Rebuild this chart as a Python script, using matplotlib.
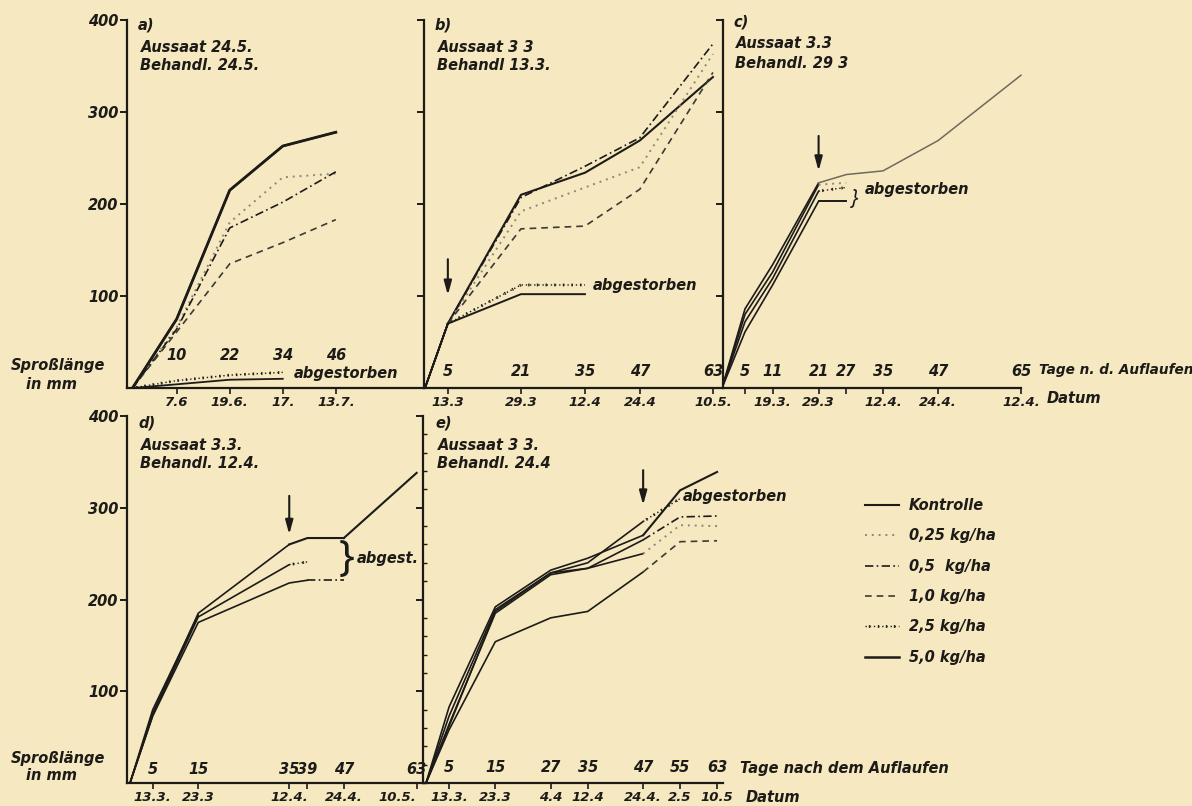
import matplotlib
matplotlib.use('Agg')
import matplotlib.pyplot as plt
import matplotlib.patheffects as pe
from matplotlib.lines import Line2D
from matplotlib.ticker import FixedLocator, MultipleLocator

W, H = 1192, 806
PAPER = '#f6e8c0'
INK = '#1c1b18'

plt.rcParams['font.family'] = 'DejaVu Sans'
plt.rcParams['font.style'] = 'oblique'
plt.rcParams['font.weight'] = 'bold'
plt.rcParams['font.size'] = 10.5
plt.rcParams['text.color'] = INK
plt.rcParams['axes.edgecolor'] = INK
plt.rcParams['xtick.color'] = INK
plt.rcParams['ytick.color'] = INK

# a) Aussaat 24.5. / Behandl. 24.5.
a_days = [0, 10, 22, 34, 46]
a_kontrolle = [0, 75, 215, 263, 278]
a_025 = [0, 66, 180, 229, 233]
a_05 = [0, 64, 174, 202, 235]
a_10 = [0, 61, 135, 158, 183]
a_days_dead = [0, 10, 22, 34]
a_25 = [0, 8, 14, 17]
a_50 = [0, 4, 9, 10]
a_dates = ['7.6', '19.6.', '17.', '13.7.']

# b) Aussaat 3.3. / Behandl. 13.3.
b_days = [0, 5, 21, 35, 47, 63]
b_kontrolle = [0, 70, 210, 234, 269, 338]
b_025 = [0, 70, 192, 218, 240, 363]
b_05 = [0, 70, 207, 241, 272, 374]
b_10 = [0, 70, 173, 176, 216, 343]
b_days_dead = [0, 5, 21, 35]
b_25 = [0, 70, 112, 112]
b_50 = [0, 70, 102, 102]
b_dates = ['13.3', '29.3', '12.4', '24.4', '10.5.']

# c) Aussaat 3.3. / Behandl. 29.3.
c_days = [0, 5, 11, 21, 27, 35, 47, 65]
c_kontrolle = [0, 86, 134, 223, 232, 236, 269, 340]
c_days_dead = [0, 5, 11, 21, 27]
c_025 = [0, 80, 126, 221, 223]
c_25 = [0, 72, 119, 214, 218]
c_50 = [0, 61, 112, 203, 203]
c_dates = ['', '19.3.', '29.3', '', '12.4.', '24.4.', '12.4.']

# d) Aussaat 3.3. / Behandl. 12.4.
d_days = [0, 5, 15, 47, 63]
d_kontrolle = [0, 80, 183, 267, 338]
d_days_dead = [0, 5, 15, 35, 39, 47]
d_50 = [0, 76, 185, 260, 267, 267]
d_25 = [0, 74, 181, 238, 240, 241]
d_05 = [0, 73, 175, 218, 221, 221]
d_ticks = [5, 15, 35, 39, 47, 63]
d_dates = ['13.3.', '23.3', '12.4.', '', '24.4.', '10.5.']

# e) Aussaat 3.3. / Behandl. 24.4.
e_days = [0, 5, 15, 27, 35, 47, 55, 63]
e_kontrolle = [0, 83, 192, 232, 245, 270, 319, 339]
e_025 = [0, 62, 187, 229, 234, 250, 281, 280]
e_05 = [0, 64, 185, 227, 234, 265, 290, 291]
e_10 = [0, 58, 154, 180, 187, 230, 263, 264]
e_days_dead = [0, 5, 15, 27, 35, 47, 55]
e_25 = [0, 73, 189, 229, 240, 285, 310]
e_dates = ['13.3.', '23.3', '4.4', '12.4', '24.4.', '2.5', '10.5']

labels = ['Kontrolle', '0,25 kg/ha', '0,5  kg/ha', '1,0 kg/ha', '2,5 kg/ha', '5,0 kg/ha']

crosses = [pe.TickedStroke(spacing=6, angle=90, length=0.45),
           pe.TickedStroke(spacing=6, angle=-90, length=0.45), pe.Normal()]
styles = [
    dict(ls='-', lw=1.5, color=INK),
    dict(ls=(0, (1, 2.5)), lw=1.4, color='#8d8774'),
    dict(ls=(0, (5, 2, 1, 2)), lw=1.2, color=INK),
    dict(ls=(0, (4, 3)), lw=1.2, color='#3b3a33'),
    dict(ls=(0, (1, 2)), lw=1.0, color=INK, path_effects=crosses),
    dict(ls='-', lw=1.8, color=INK),
]


def px_x(p):
    return p / W


def px_y(p):
    return 1 - p / H


fig = plt.figure(figsize=(W / 100, H / 100), dpi=100, facecolor=PAPER)


def panel(left, right, zero, top, origin, step, labelled):
    ax = fig.add_axes([px_x(left), px_y(zero), (right - left) / W, (zero - top) / H])
    ax.set_xlim((left - origin) / step, (right - origin) / step)
    ax.set_ylim(0, 400)
    ax.patch.set_visible(False)
    ax.spines['top'].set_visible(False)
    ax.spines['right'].set_visible(False)
    ax.spines['left'].set_linewidth(1.6)
    ax.spines['bottom'].set_linewidth(1.6)
    ax.yaxis.set_major_locator(FixedLocator([100, 200, 300, 400]))
    ax.tick_params(axis='y', direction='out', length=5, width=1.4, pad=1)
    ax.tick_params(axis='x', direction='out', length=4, width=1.2, pad=2, labelsize=9.5)
    if not labelled:
        ax.set_yticklabels([])
    return ax


def draw(ax, days, vals, style, treat, **extra):
    pre = [(d, v) for d, v in zip(days, vals) if d <= treat]
    post = [(d, v) for d, v in zip(days, vals) if d >= treat]
    if len(pre) > 1:
        ax.plot(*zip(*pre), color=INK, lw=1.2, solid_capstyle='round')
    if len(post) > 1:
        st = dict(style)
        st.update(extra)
        ax.plot(*zip(*post), **st)


def days_above(ax, days, offset):
    for d in days:
        ax.annotate(str(d), xy=(d, 0), xytext=(0, offset), textcoords='offset pixels',
                    ha='center', va='center')


def dates_below(ax, days, dates):
    ax.set_xticks(days)
    ax.set_xticklabels(dates)


def arrow(ax, day, y0, y1):
    ax.annotate('', xy=(day, y1), xytext=(day, y0),
                arrowprops=dict(arrowstyle='-|>,head_width=0.22,head_length=0.8',
                                color=INK, lw=1.5))


# top row
ax_a = panel(127, 424, 388, 20, 132.5, 4.42, True)
for vals, st in zip([a_kontrolle, a_025, a_05, a_10], styles[:4]):
    draw(ax_a, a_days, vals, st, 0)
draw(ax_a, a_days, a_kontrolle, styles[0], 0, lw=2.0)
draw(ax_a, a_days_dead, a_25, styles[4], 0)
draw(ax_a, a_days_dead, a_50, styles[5], 0, lw=1.3)
days_above(ax_a, a_days[1:], 33)
dates_below(ax_a, a_days[1:], a_dates)
ax_a.text(36.5, 16, 'abgestorben', va='center')

ax_b = panel(424, 723, 388, 20, 425, 4.57, False)
for vals, st in zip([b_kontrolle, b_025, b_05, b_10], styles[:4]):
    draw(ax_b, b_days, vals, st, 5)
draw(ax_b, b_days_dead, b_25, styles[4], 5)
draw(ax_b, b_days_dead, b_50, styles[5], 5, lw=1.4)
days_above(ax_b, b_days[1:], 17)
dates_below(ax_b, b_days[1:], b_dates)
ax_b.text(36.8, 111, 'abgestorben', va='center')
arrow(ax_b, 5, 143, 98)

ax_c = panel(723, 1022, 388, 20, 722, 4.6, False)
draw(ax_c, c_days, c_kontrolle, styles[0], 21, color='#6f6a5c', lw=1.1)
draw(ax_c, c_days_dead, c_025, styles[1], 21)
draw(ax_c, c_days_dead, c_25, styles[4], 21)
draw(ax_c, c_days_dead, c_50, styles[5], 21, lw=1.4)
days_above(ax_c, c_days[1:], 17)
dates_below(ax_c, c_days[1:], c_dates)
ax_c.text(28.8, 205, '}', va='center', ha='center', fontsize=15,
          fontweight='normal', family='Noto Sans')
ax_c.text(31.0, 216, 'abgestorben', va='center')
arrow(ax_c, 21, 277, 233)
ax_c.spines['bottom'].set_bounds(ax_c.get_xlim()[0], 65)
fig.text(px_x(1039), px_y(370), 'Tage n. d. Auflaufen', va='center', fontsize=9.8)
fig.text(px_x(1047), px_y(399), 'Datum', va='center')

# bottom row
ax_d = panel(127, 423, 783, 416, 130, 4.55, True)
draw(ax_d, d_days, d_kontrolle, styles[0], 35)
draw(ax_d, d_days_dead, d_50, styles[0], 35)
draw(ax_d, d_days_dead[:-1] + [47], d_25[:-2] + [d_25[-1]], styles[4], 35)
draw(ax_d, d_days_dead, d_05, styles[2], 39)
days_above(ax_d, d_ticks, 13)
dates_below(ax_d, d_ticks, d_dates)
ax_d.get_xticklabels()[-1].set_ha('right')
ax_d.text(47.6, 244, '}', va='center', ha='center', fontsize=30,
          fontweight='normal', fontstyle='normal', family='Noto Sans')
ax_d.text(49.9, 245, 'abgest.', va='center')
arrow(ax_d, 35, 316, 268)

ax_e = panel(423, 723, 783, 416, 426, 4.62, False)
for vals, st in zip([e_kontrolle, e_025, e_05, e_10], styles[:4]):
    draw(ax_e, e_days, vals, st, 47)
draw(ax_e, e_days_dead, e_25, styles[4], 47)
days_above(ax_e, e_days[1:], 15)
dates_below(ax_e, e_days[1:], e_dates)
ax_e.yaxis.set_minor_locator(MultipleLocator(20))
ax_e.tick_params(axis='y', which='minor', direction='in', length=3, width=1.0)
ax_e.text(55.5, 312, 'abgestorben', va='center')
arrow(ax_e, 47, 344, 300)
fig.text(px_x(740), px_y(768), 'Tage nach dem Auflaufen', va='center')
fig.text(px_x(746), px_y(798), 'Datum', va='center')

for top in (366, 758):
    fig.text(px_x(58), px_y(top), 'Sproßlänge', ha='center', va='center')
    fig.text(px_x(52), px_y(top + 18), 'in mm', ha='center', va='center')

# panel captions
captions = [
    ('a)', 'Aussaat 24.5.', 'Behandl. 24.5.', 138, 25),
    ('b)', 'Aussaat 3 3', 'Behandl 13.3.', 435, 25),
    ('c)', 'Aussaat 3.3', 'Behandl. 29 3', 733, 22),
    ('d)', 'Aussaat 3.3.', 'Behandl. 12.4.', 138, 423),
    ('e)', 'Aussaat 3 3.', 'Behandl. 24.4', 435, 423),
]
for tag, sow, treat, x, y in captions:
    fig.text(px_x(x), px_y(y), tag, va='center')
    fig.text(px_x(x + 3), px_y(y + 22), sow, va='center')
    fig.text(px_x(x + 2), px_y(y + 41), treat, va='center')

handles = [Line2D([], [], **st) for st in styles]
fig.legend(handles, labels, loc='upper left', bbox_to_anchor=(px_x(852), px_y(485)),
           frameon=False, handlelength=2.3, handletextpad=0.7, labelspacing=1.05,
           fontsize=10.5)

fig.savefig('out.png', dpi=100, facecolor=PAPER)
